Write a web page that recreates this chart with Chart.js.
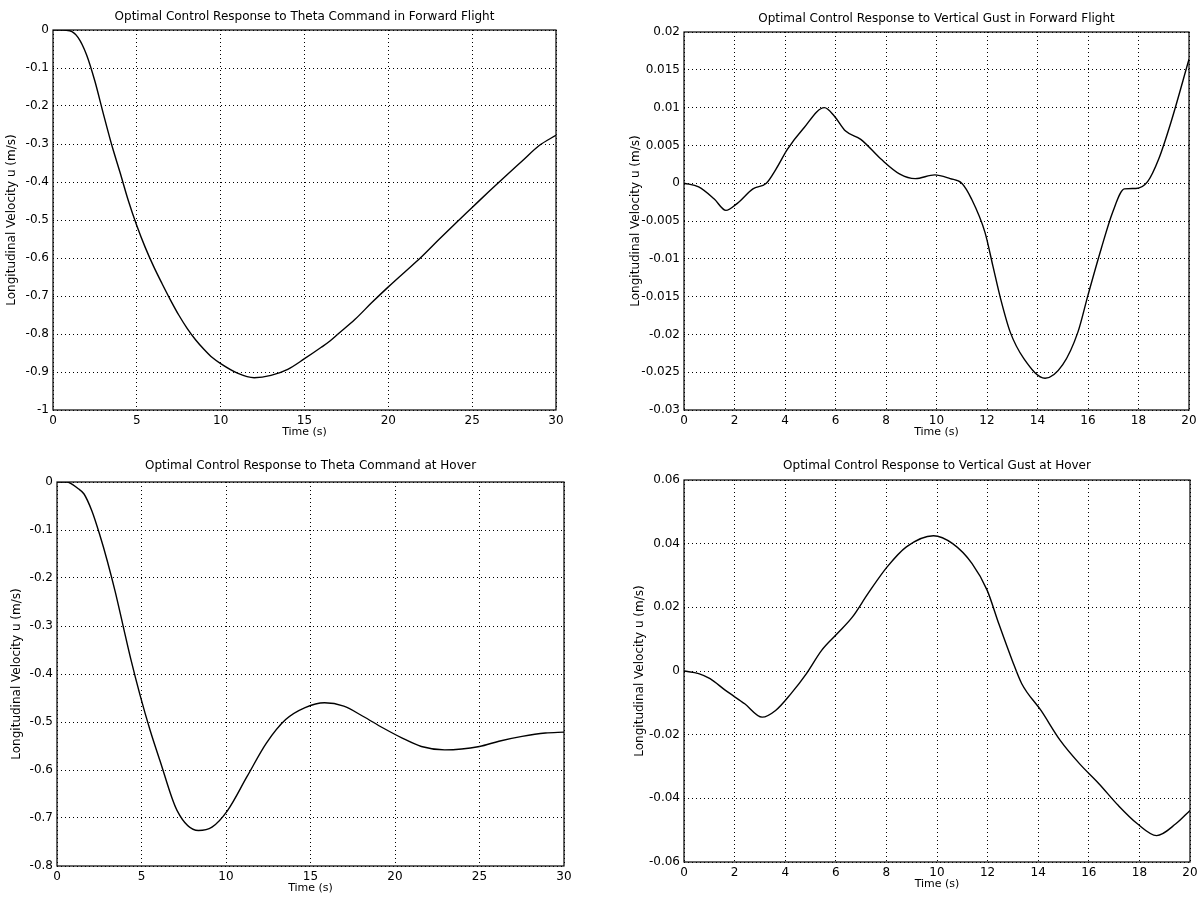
<!DOCTYPE html>
<html><head><meta charset="utf-8">
<script src="https://cdn.jsdelivr.net/npm/chart.js@4.4.0/dist/chart.umd.min.js"></script>
<style>
html,body{margin:0;padding:0;background:#fff;width:1202px;height:900px;overflow:hidden;}
canvas{position:absolute;}
</style></head><body>
<canvas id="c1"></canvas><canvas id="c2"></canvas><canvas id="c3"></canvas><canvas id="c4"></canvas>
<script>
// ---- Data ----
const timeThetaFwd = [0, 0.5, 1, 1.5, 2, 2.5, 3, 3.5, 4, 4.5, 5, 5.5, 6, 6.5, 7, 7.5, 8, 8.5, 9, 9.5, 10, 11, 12, 13, 14, 15, 16, 16.5, 17, 18, 19, 20, 21, 22, 23, 24, 25, 26, 27, 28, 29, 30];
const uThetaFwd = [0, 0, -0.002, -0.02, -0.065, -0.135, -0.22, -0.302, -0.375, -0.45, -0.515, -0.572, -0.622, -0.667, -0.71, -0.75, -0.785, -0.815, -0.84, -0.862, -0.878, -0.903, -0.915, -0.909, -0.893, -0.865, -0.835, -0.819, -0.8, -0.762, -0.718, -0.676, -0.636, -0.596, -0.552, -0.509, -0.467, -0.425, -0.384, -0.344, -0.304, -0.277];

const timeGustFwd = [0, 0.58, 1.2, 1.66, 2.1, 2.73, 3.26, 3.65, 4.1, 4.72, 5.56, 5.95, 6.4, 7.0, 7.8, 8.55, 9.16, 9.93, 10.54, 11.0, 11.39, 11.92, 12.23, 12.54, 12.92, 13.46, 14.3, 15.0, 15.6, 16.0, 16.52, 16.98, 17.44, 17.9, 18.36, 18.8, 19.28, 20];
const uGustFwd = [0, -0.0005, -0.0021, -0.0036, -0.0027, -0.00075, 0, 0.0019, 0.0045, 0.0072, 0.010, 0.0089, 0.0069, 0.0058, 0.0032, 0.0012, 0.0006, 0.0011, 0.0006, 0, -0.0021, -0.0065, -0.0109, -0.0153, -0.0197, -0.0232, -0.0258, -0.024, -0.0197, -0.0148, -0.0087, -0.0038, -0.00075, -0.0007, 0.0002, 0.0032, 0.008, 0.0164];

const timeThetaHover = [0, 0.57, 1.26, 1.6, 2.06, 2.52, 2.98, 3.44, 3.9, 4.36, 4.93, 5.5, 6.08, 7.1, 8.37, 9.17, 10.1, 11.24, 12.39, 13.53, 14.68, 15.83, 16.97, 18.1, 19.27, 20.4, 21.56, 22.94, 25.0, 26.15, 27.52, 28.9, 30];
const uThetaHover = [0, 0, -0.014, -0.025, -0.06, -0.109, -0.165, -0.228, -0.298, -0.368, -0.446, -0.516, -0.579, -0.684, -0.726, -0.719, -0.684, -0.614, -0.544, -0.495, -0.47, -0.46, -0.467, -0.488, -0.512, -0.533, -0.551, -0.558, -0.551, -0.54, -0.53, -0.523, -0.521];

const timeGustHover = [0, 0.58, 1.03, 1.64, 2.4, 3.09, 3.62, 4.23, 4.84, 5.44, 6.05, 6.66, 7.27, 8.03, 8.79, 9.86, 10.62, 11.38, 11.98, 12.44, 12.97, 13.35, 14.11, 14.87, 15.63, 16.4, 17.16, 17.92, 18.68, 19.44, 20];
const uGustHover = [0, -0.0008, -0.0024, -0.0061, -0.0103, -0.0145, -0.0124, -0.0071, -0.0008, 0.0065, 0.0117, 0.017, 0.0243, 0.0327, 0.039, 0.0425, 0.04, 0.0338, 0.0254, 0.0149, 0.0034, -0.004, -0.0124, -0.0218, -0.0291, -0.0354, -0.0422, -0.048, -0.0517, -0.048, -0.0438];

// ---- Ticks ----
const xTicks30 = [0, 5, 10, 15, 20, 25, 30];
const xTickLabels30 = ['0', '5', '10', '15', '20', '25', '30'];
const xTicks20 = [0, 2, 4, 6, 8, 10, 12, 14, 16, 18, 20];
const xTickLabels20 = ['0', '2', '4', '6', '8', '10', '12', '14', '16', '18', '20'];

const yTicksThetaFwd = [-1, -0.9, -0.8, -0.7, -0.6, -0.5, -0.4, -0.3, -0.2, -0.1, 0];
const yLabelsThetaFwd = ['-1', '-0.9', '-0.8', '-0.7', '-0.6', '-0.5', '-0.4', '-0.3', '-0.2', '-0.1', '0'];
const yTicksGustFwd = [-0.03, -0.025, -0.02, -0.015, -0.01, -0.005, 0, 0.005, 0.01, 0.015, 0.02];
const yLabelsGustFwd = ['-0.03', '-0.025', '-0.02', '-0.015', '-0.01', '-0.005', '0', '0.005', '0.01', '0.015', '0.02'];
const yTicksThetaHover = [-0.8, -0.7, -0.6, -0.5, -0.4, -0.3, -0.2, -0.1, 0];
const yLabelsThetaHover = ['-0.8', '-0.7', '-0.6', '-0.5', '-0.4', '-0.3', '-0.2', '-0.1', '0'];
const yTicksGustHover = [-0.06, -0.04, -0.02, 0, 0.02, 0.04, 0.06];
const yLabelsGustHover = ['-0.06', '-0.04', '-0.02', '0', '0.02', '0.04', '0.06'];

const titles = [
  'Optimal Control Response to Theta Command in Forward Flight',
  'Optimal Control Response to Vertical Gust in Forward Flight',
  'Optimal Control Response to Theta Command at Hover',
  'Optimal Control Response to Vertical Gust at Hover'
];
const xAxisTitle = 'Time (s)';
const yAxisTitle = 'Longitudinal Velocity u (m/s)';

// ---- Layout / style ----
const FONT = "'DejaVu Sans', Verdana, sans-serif";
const ML = 65, MT = 30, MB = 35;

const boxPlugin = {
  id: 'box',
  afterDatasetsDraw(chart) {
    const {ctx, chartArea: a} = chart;
    ctx.save();
    ctx.strokeStyle = '#000';
    ctx.lineWidth = 1.2;
    ctx.strokeRect(a.left, a.top, a.right - a.left, a.bottom - a.top);
    ctx.restore();
  }
};

function lookup(vals, labels) {
  return (v) => {
    const i = vals.findIndex(x => Math.abs(x - v) < 1e-9);
    return i >= 0 ? labels[i] : '';
  };
}

// box = [left, top, right, bottom] of the plot frame; titleGap = distance of title centre above frame;
// yLabelPad = padding of the rotated y-axis title from the canvas edge
function makeChart(id, box, titleGap, yLabelPad, title, xs, ys, xT, xL, yT, yL) {
  const [L, T, R, B] = box;
  const cv = document.getElementById(id);
  const w = (R - L) + 2 * ML, h = (B - T) + MT + MB;
  cv.width = w; cv.height = h;
  cv.style.left = (L - ML) + 'px';
  cv.style.top = (T - MT) + 'px';
  cv.style.width = w + 'px'; cv.style.height = h + 'px';
  const tTop = MT - titleGap - 6;
  const gridCommon = {color: '#000', lineWidth: 1, drawTicks: false};
  return new Chart(cv, {
    type: 'line',
    data: {datasets: [{
      data: xs.map((x, i) => ({x: x, y: ys[i]})),
      borderColor: '#000', borderWidth: 1.4, pointRadius: 0,
      cubicInterpolationMode: 'monotone', fill: false
    }]},
    options: {
      responsive: false, animation: false, devicePixelRatio: 1,
      layout: {padding: 0},
      plugins: {
        legend: {display: false}, tooltip: {enabled: false},
        title: {display: true, text: title, color: '#000',
          font: {family: FONT, size: 12, weight: 'normal', lineHeight: 1},
          padding: {top: tTop, bottom: MT - 12 - tTop}}
      },
      scales: {
        x: {
          type: 'linear', min: xT[0], max: xT[xT.length - 1],
          afterBuildTicks: s => { s.ticks = xT.map(v => ({value: v})); },
          afterFit: s => { s.height = MB; },
          ticks: {autoSkip: false, maxRotation: 0, padding: 4, color: '#000',
            font: {family: FONT, size: 12}, callback: lookup(xT, xL)},
          grid: gridCommon,
          border: {display: false, dash: [1, 3]},
          title: {display: true, text: xAxisTitle, color: '#000',
            font: {family: FONT, size: 11, lineHeight: 1}, padding: {top: 0, bottom: 7}}
        },
        y: {
          type: 'linear', min: yT[0], max: yT[yT.length - 1],
          afterBuildTicks: s => { s.ticks = yT.map(v => ({value: v})); },
          afterFit: s => { s.width = ML; },
          ticks: {autoSkip: false, padding: 4, color: '#000',
            font: {family: FONT, size: 12}, callback: lookup(yT, yL)},
          grid: gridCommon,
          border: {display: false, dash: [1, 3]},
          title: {display: true, text: yAxisTitle, color: '#000',
            font: {family: FONT, size: 12, lineHeight: 1}, padding: {top: yLabelPad, bottom: 0}}
        },
        y2: {
          position: 'right', display: true,
          afterFit: s => { s.width = ML; },
          ticks: {display: false}, grid: {display: false}, border: {display: false}
        }
      }
    },
    plugins: [boxPlugin]
  });
}

makeChart('c1', [53, 30, 556, 410], 13, 18, titles[0], timeThetaFwd, uThetaFwd, xTicks30, xTickLabels30, yTicksThetaFwd, yLabelsThetaFwd);
makeChart('c2', [684, 32, 1189, 410], 13, 11, titles[1], timeGustFwd, uGustFwd, xTicks20, xTickLabels20, yTicksGustFwd, yLabelsGustFwd);
makeChart('c3', [57, 482, 564, 866], 16, 19, titles[2], timeThetaHover, uThetaHover, xTicks30, xTickLabels30, yTicksThetaHover, yLabelsThetaHover);
makeChart('c4', [684, 480, 1190, 862], 14, 15, titles[3], timeGustHover, uGustHover, xTicks20, xTickLabels20, yTicksGustHover, yLabelsGustHover);
</script>
</body></html>
